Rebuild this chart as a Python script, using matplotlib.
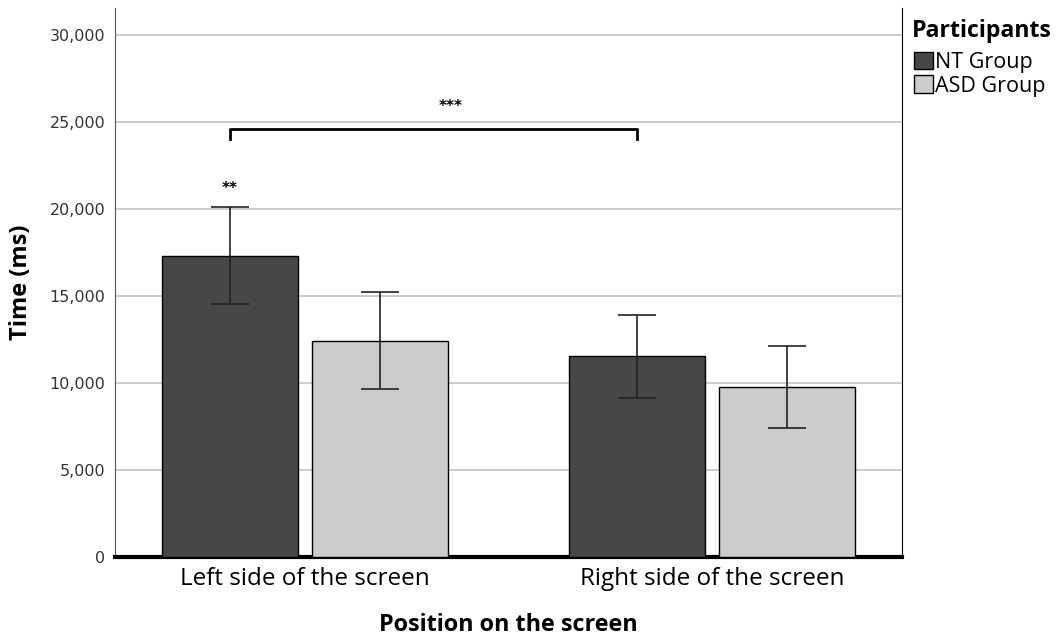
import matplotlib

matplotlib.use("Agg")
import matplotlib.pyplot as plt
import numpy as np
from matplotlib.patches import Patch

positions = ["Left side of the screen", "Right side of the screen"]
groups = ["NT Group", "ASD Group"]
nt_means = [17300, 11550]
asd_means = [12410, 9770]
nt_err_hi = [20115, 13910]
nt_err_lo = [14540, 9140]
asd_err_hi = [15230, 12130]
asd_err_lo = [9655, 7410]

NT_COLOR = "#474747"
ASD_COLOR = "#cccccc"

plt.rcParams["font.family"] = ["Open Sans", "DejaVu Sans"]

fig = plt.figure(figsize=(10.58, 6.39), dpi=100)
ax = fig.add_axes([115 / 1058, 1 - 557 / 639, (902 - 115) / 1058, (557 - 8) / 639])

x = np.arange(len(positions))
offset = 0.185
width = 0.334

for means, hi, lo, color, sign in [
    (nt_means, nt_err_hi, nt_err_lo, NT_COLOR, -1),
    (asd_means, asd_err_hi, asd_err_lo, ASD_COLOR, 1),
]:
    xs = x + sign * offset
    ax.bar(xs, means, width, color=color, edgecolor="black", linewidth=1.0, zorder=3)
    means_a = np.array(means)
    yerr = [means_a - np.array(lo), np.array(hi) - means_a]
    ax.errorbar(xs, means, yerr=yerr, fmt="none", ecolor="#222222", elinewidth=1.2,
                capsize=14, capthick=1.2, zorder=4)

# significance marks
x_left_nt = x[0] - offset
x_right_nt = x[1] - offset
ax.plot([x_left_nt, x_left_nt, x_right_nt, x_right_nt], [24000, 24600, 24600, 24000],
        color="black", linewidth=2, zorder=5)
ax.text((x_left_nt + x_right_nt) / 2 + 0.042, 25900, "***", ha="center", va="center",
        fontsize=11, fontweight="bold", family="DejaVu Sans")
ax.text(x_left_nt, 21200, "**", ha="center", va="center",
        fontsize=11, fontweight="bold", family="DejaVu Sans")

ax.set_xlim(-0.467, 1.467)
ax.set_ylim(0, 31550)
ax.set_yticks(np.arange(0, 30001, 5000))
ax.set_yticklabels([f"{v:,}" for v in range(0, 30001, 5000)], family="DejaVu Sans", fontsize=11.5)
ax.set_xticks(x)
ax.set_xticklabels(positions, fontsize=17.5)
ax.tick_params(axis="x", length=0, pad=7)
ax.tick_params(axis="y", length=0, pad=7, colors="#333333")
for yv in range(5000, 30001, 5000):
    ax.axhline(yv, color="#c8c8c8", linewidth=1.3, zorder=1)

ax.spines["top"].set_visible(False)
ax.spines["left"].set_color("#555555")
ax.spines["right"].set_color("black")
ax.spines["bottom"].set_linewidth(3)
ax.spines["bottom"].set_color("black")

ax.set_ylabel("Time (ms)", fontsize=17, fontweight="bold", labelpad=12)
ax.set_xlabel("Position on the screen", fontsize=16.8, fontweight="bold", labelpad=16)

fig.text(912 / 1058, 1 - 31 / 639, "Participants", fontsize=16.7, fontweight="bold", va="center")
handles = [Patch(facecolor=NT_COLOR, edgecolor="black"), Patch(facecolor=ASD_COLOR, edgecolor="black")]
fig.legend(handles, groups, loc="upper left", bbox_to_anchor=(910 / 1058, 1 - 48 / 639),
           frameon=False, fontsize=15.5, handlelength=0.85, handleheight=0.85,
           handletextpad=0.1, labelspacing=0.1, borderaxespad=0, borderpad=0.2)

fig.savefig("out.png", dpi=100)
